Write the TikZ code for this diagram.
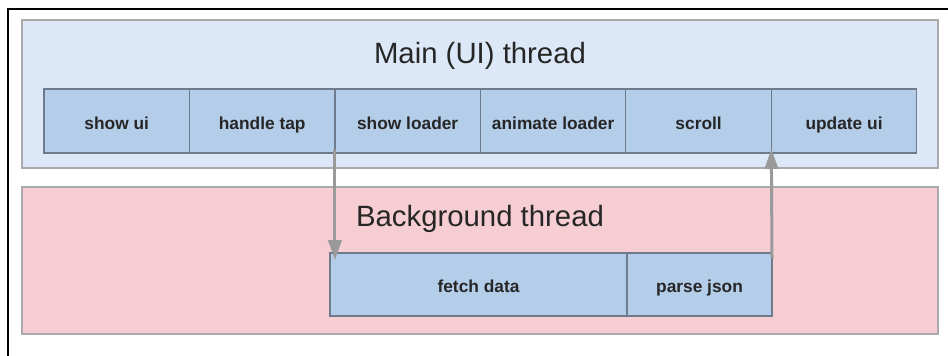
\documentclass[tikz,border=0pt]{standalone}
\usepackage{fontspec}
\setmainfont{Liberation Sans}
\usepackage{tikz}
\usetikzlibrary{arrows.meta, positioning, calc}
\definecolor{mainfill}{RGB}{220, 232, 247}
\definecolor{bgfill}{RGB}{245, 205, 210}
\definecolor{taskfill}{RGB}{180, 205, 233}
\definecolor{taskline}{RGB}{109, 123, 141}
\definecolor{panelline}{RGB}{170, 170, 170}
\definecolor{arrowgray}{RGB}{154, 154, 154}

\tikzset{
  panel/.style={draw=panelline, line width=0.8pt, anchor=north west, inner sep=0pt, outer sep=0pt},
  threadtitle/.style={font=\fontsize{22}{26}\selectfont, text=black!85},
  task/.style={draw=taskline, fill=taskfill, line width=0.9pt, inner sep=0pt, outer sep=0pt,
    minimum width=109.1pt, minimum height=48pt, text height=12.4pt, text depth=0pt,
    font=\fontsize{13}{15}\selectfont\bfseries, text=black!85},
  handoff/.style={draw=arrowgray, line width=2.25pt, -{Triangle[width=10pt, length=15pt]}}
}

\begin{document}
\begin{tikzpicture}[x=0.75pt, y=-0.75pt]
  \useasboundingbox (0,0) rectangle (948,355);
  \draw[line width=2.2pt] (8,356) -- (8,9) -- (949,9);

  % main thread
  \node[panel, fill=mainfill, minimum width=687pt, minimum height=111pt] (mainpanel) at (22,20) {};
  \node[threadtitle] (maintitle) at (480,56) {Main (UI) thread};
  \node[task, anchor=north west] (showui) at (44,89) {show ui};
  \node[task, right=0pt of showui] (tap) {handle tap};
  \node[task, right=0pt of tap] (showloader) {show loader};
  \node[task, right=0pt of showloader] (animate) {animate loader};
  \node[task, right=0pt of animate] (scroll) {scroll};
  \node[task, right=0pt of scroll] (update) {update ui};

  % background thread
  \node[panel, fill=bgfill, minimum width=687pt, minimum height=110.25pt] (bgpanel) at (22,187) {};
  \node[threadtitle] (bgtitle) at (480,219) {Background thread};
  \node[task, anchor=north west, minimum width=222.75pt, minimum height=47.25pt] (fetch) at (330,253) {fetch data};
  \node[task, right=0pt of fetch, minimum width=108.75pt, minimum height=47.25pt] (parse) {parse json};

  \draw[handoff] ($(showloader.south west)+(0,-3)$) -- ($(showloader.south west |- fetch.north)+(0,7)$);
  \draw[handoff] ($(parse.north east)+(0,5)$) -- ($(update.south west)+(0,-4)$);
\end{tikzpicture}
\end{document}
